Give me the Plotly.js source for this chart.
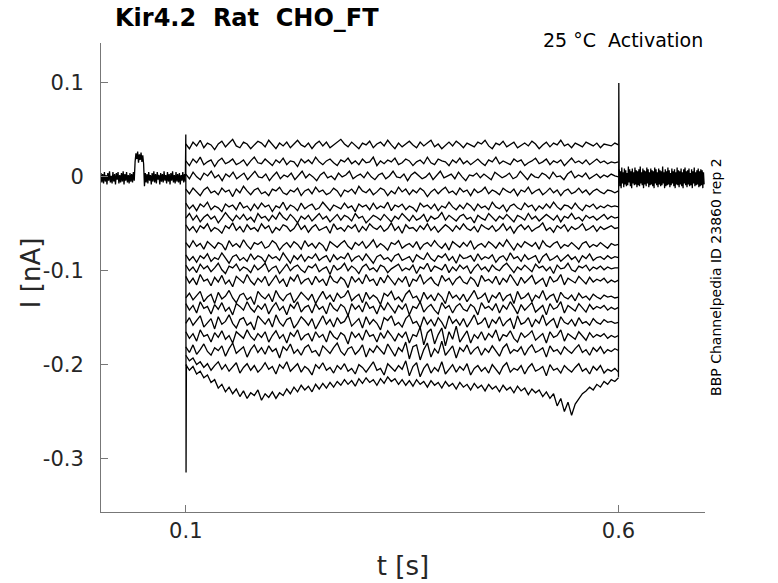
<!DOCTYPE html>
<html>
<head>
<meta charset="utf-8">
<script src="https://cdn.plot.ly/plotly-3.0.1.min.js"></script>
<style>html,body{margin:0;padding:0;background:#fff;}#plot{width:778px;height:583px;}</style>
</head>
<body>
<div id="plot"></div>
<script>
// Currents in pA (plotted in nA). Time windows in s.
const preWindow = [0.002, 0.0995];
const stepWindow = [0.1, 0.6];
const postWindow = [0.6008, 0.699];

const preBaseline = [4,-6,3,-7,5,-5,2,-8,4,-4,6,-6,1,-7,5,-5,3,-8,4,-3,5,-7,2,-6,4,-5,6,-8,3,-4,5,-6,2,-7,4,-5,3,-6,5,-4,
  16,25,19,27,15,24,18,26,16,23,14,-10,
  4,-6,3,-7,5,-4,2,-8,4,-5,6,-6,3,-7,5,-3,2,-8,4,-5,3,-6,6,-4,2,-7,5,-5,3,-8,4,-4,6,-6,2,-7,5,-5,3,-6,4,-8,2,-4,5,-6,3,-5];

const postBaseline = [8,-10,6,-12,10,-7,5,-11,9,-8,7,-10,4,-9,11,-6,8,-10,6,-12,9,-7,5,-9,10,-8,7,-11,6,-9,
  8,-10,11,-7,5,-9,9,-12,7,-8,6,-10,10,-7,8,-11,5,-9,9,-8,7,-10,6,-12,10,-7,8,-9,5,-11,
  9,-8,7,-10,6,-9,11,-7,5,-12,8,-10,6,-9,10,-8,7,-11,4,-9,9,-7,6,-10,8,-12,5,-8,10,-9,
  7,-11,6,-8,9,-10,5,-12,8,-7,10,-9,6,-11,7,-8,9,-10,4,-9,8,-12,6,-7,10,-10,5,-9,7,-8,
  9,-11,6,-10,8,-9,7,-12,5,-8];

const onsetT = [0.0995, 0.1, 0.1003, 0.1007];
const onsetI = [0, 45, -315, -200];
const offsetT = [0.5998, 0.6, 0.6004, 0.6008];
const offsetI = [-213, -213, 100, 5];

const sweep01 = [35,30,37,33,39,31,36,34,29,35,38,32,36,40,33,31,37,35,30,34,38,36,32,39,34,30,36,33,37,31,35,39,34,32,36,30,35,38,33,37,31,34,36,40,35,32,37,33,30,36,34,38,31,35,37,33,39,34,30,36,32,35,38,34,31,37,33,36,39,32,35,30,34,37,33,38,35,31,36,34,32,37,35,39,33,30,36,34,38,32,35,37,31,34,36,33,38,35,30,34,37,32,36,34,39,33,35,31,36,34,32,37,35,33,36,31,35,34,33,36,34];
const sweep02 = [17,12,19,15,21,13,16,18,11,17,20,14,16,19,13,15,18,12,17,21,15,14,19,16,12,18,15,20,13,17,16,11,19,15,18,14,21,16,13,17,19,15,12,18,16,20,14,17,13,19,15,16,21,12,17,14,18,16,20,13,15,19,17,12,16,18,14,21,15,13,19,17,16,12,18,15,20,14,17,13,16,19,15,12,18,16,21,14,17,15,13,19,16,18,12,15,17,20,14,16,19,13,17,15,18,12,16,20,15,17,14,18,13,16,19,15,17,14,16,15,16];
const sweep03 = [3,-2,5,0,-3,4,1,6,-1,2,-4,3,0,5,-2,1,4,-3,2,6,0,-1,3,-4,1,5,-2,2,0,4,-3,1,6,-1,3,0,-4,2,5,-1,1,-3,4,0,2,6,-2,1,3,-1,5,0,-3,2,4,-2,1,6,0,-1,3,-4,2,5,1,-2,0,4,-3,2,6,-1,1,3,-2,5,0,-4,2,1,4,-1,3,0,-3,5,2,-1,1,4,-2,0,6,1,-3,3,0,-1,4,2,-2,5,0,1,-3,3,6,-1,2,0,4,-2,1,3,-1,2,0,3,1,0];
const sweep04 = [-13,-18,-12,-16,-20,-14,-11,-17,-15,-19,-12,-16,-14,-21,-13,-17,-10,-15,-19,-14,-12,-18,-16,-20,-13,-15,-11,-17,-19,-14,-16,-12,-20,-15,-13,-18,-11,-16,-14,-19,-17,-12,-15,-21,-14,-16,-13,-18,-10,-15,-17,-13,-19,-16,-12,-14,-20,-15,-18,-11,-16,-13,-19,-14,-17,-12,-15,-21,-16,-13,-18,-14,-11,-17,-15,-19,-12,-16,-14,-20,-13,-17,-15,-11,-18,-14,-16,-19,-12,-15,-17,-13,-20,-14,-16,-11,-18,-15,-13,-19,-16,-12,-17,-14,-20,-15,-13,-18,-16,-12,-17,-14,-19,-15,-13,-16,-18,-14,-15,-17,-15];
const sweep05 = [-28,-34,-30,-36,-29,-32,-27,-35,-31,-33,-37,-29,-32,-30,-35,-27,-33,-31,-36,-29,-34,-28,-32,-30,-37,-31,-33,-27,-35,-30,-32,-36,-28,-34,-31,-29,-35,-33,-27,-31,-36,-30,-32,-34,-28,-33,-31,-37,-29,-32,-30,-35,-28,-34,-31,-33,-27,-36,-30,-32,-29,-35,-31,-33,-37,-28,-32,-30,-34,-29,-36,-31,-33,-27,-32,-35,-30,-34,-28,-31,-36,-29,-33,-31,-35,-27,-32,-34,-30,-37,-31,-29,-33,-35,-28,-32,-30,-36,-31,-34,-29,-33,-27,-32,-35,-30,-31,-34,-28,-33,-36,-30,-32,-29,-34,-31,-33,-30,-32,-31,-32];
const sweep06 = [-44,-39,-46,-41,-48,-43,-40,-45,-42,-49,-44,-38,-43,-47,-41,-45,-40,-46,-43,-48,-39,-44,-42,-47,-41,-45,-38,-43,-46,-40,-44,-49,-42,-45,-41,-47,-43,-39,-45,-42,-48,-44,-40,-46,-41,-43,-47,-39,-44,-42,-49,-45,-41,-43,-46,-40,-44,-48,-42,-45,-39,-43,-47,-41,-46,-44,-40,-48,-42,-45,-43,-38,-46,-41,-44,-47,-42,-40,-45,-43,-49,-41,-44,-46,-39,-43,-47,-42,-45,-40,-44,-48,-41,-43,-46,-39,-45,-42,-47,-44,-40,-43,-46,-41,-48,-42,-44,-39,-45,-43,-47,-41,-44,-42,-46,-43,-40,-45,-42,-44,-43];
const sweep07 = [-51,-57,-53,-59,-52,-55,-50,-58,-54,-56,-60,-52,-55,-49,-57,-53,-59,-51,-56,-54,-58,-50,-55,-52,-60,-54,-57,-51,-53,-58,-55,-49,-56,-52,-59,-54,-51,-57,-55,-53,-60,-50,-56,-54,-58,-52,-55,-51,-59,-53,-57,-50,-54,-56,-52,-58,-55,-49,-57,-53,-60,-51,-55,-54,-58,-52,-56,-50,-57,-53,-59,-55,-51,-54,-58,-52,-56,-50,-55,-57,-53,-59,-51,-54,-56,-52,-58,-55,-50,-57,-53,-60,-54,-51,-56,-52,-58,-55,-53,-49,-57,-54,-59,-52,-55,-51,-58,-53,-56,-54,-50,-57,-55,-52,-58,-53,-56,-54,-52,-55,-54];
const sweep08 = [-70,-75,-68,-74,-71,-77,-69,-73,-76,-70,-72,-78,-68,-74,-71,-75,-67,-73,-77,-70,-72,-69,-76,-74,-68,-71,-78,-73,-70,-75,-69,-72,-77,-68,-74,-71,-76,-70,-73,-79,-69,-72,-75,-71,-68,-74,-77,-70,-73,-69,-76,-72,-67,-75,-71,-74,-78,-70,-72,-68,-76,-73,-71,-75,-69,-77,-72,-70,-74,-68,-73,-76,-71,-78,-69,-72,-75,-70,-74,-68,-77,-73,-71,-75,-69,-72,-76,-70,-74,-67,-73,-78,-71,-75,-69,-72,-74,-70,-77,-68,-73,-75,-71,-69,-76,-72,-74,-70,-73,-77,-71,-69,-75,-72,-74,-70,-73,-76,-71,-73,-72];
const sweep09 = [-83,-89,-85,-91,-84,-87,-82,-90,-86,-88,-81,-87,-92,-85,-83,-89,-86,-90,-82,-88,-84,-86,-91,-83,-87,-85,-89,-81,-86,-92,-84,-88,-83,-90,-85,-87,-82,-89,-86,-84,-91,-83,-88,-85,-87,-81,-90,-86,-84,-89,-82,-87,-92,-85,-83,-88,-86,-90,-84,-82,-89,-87,-85,-91,-83,-86,-88,-81,-87,-90,-84,-86,-82,-89,-85,-92,-83,-87,-86,-84,-90,-82,-88,-85,-87,-83,-91,-86,-84,-89,-81,-87,-85,-90,-83,-88,-86,-84,-92,-85,-82,-89,-87,-84,-90,-86,-83,-88,-85,-91,-84,-87,-82,-89,-86,-85,-88,-84,-87,-85,-86];
const sweep10 = [-94,-100,-96,-102,-93,-98,-95,-101,-97,-92,-99,-103,-95,-97,-93,-100,-96,-98,-102,-94,-99,-96,-92,-101,-97,-95,-103,-98,-93,-100,-96,-94,-99,-102,-95,-97,-93,-101,-98,-96,-104,-94,-99,-97,-92,-100,-95,-98,-103,-96,-93,-99,-97,-101,-94,-96,-102,-98,-95,-93,-100,-97,-99,-94,-103,-96,-98,-92,-101,-95,-97,-99,-93,-102,-96,-100,-94,-98,-95,-103,-97,-93,-99,-96,-101,-94,-98,-100,-95,-92,-97,-102,-96,-99,-94,-98,-101,-93,-97,-95,-100,-96,-103,-94,-98,-97,-92,-99,-101,-95,-97,-94,-100,-96,-98,-95,-99,-96,-98,-97,-97];
const sweep11 = [-106,-113,-108,-115,-104,-111,-109,-116,-107,-112,-105,-114,-110,-117,-106,-109,-113,-104,-111,-115,-108,-112,-106,-116,-110,-105,-113,-109,-117,-107,-111,-104,-114,-110,-108,-115,-106,-112,-109,-116,-105,-111,-113,-107,-110,-118,-106,-112,-108,-114,-104,-111,-109,-116,-107,-113,-105,-110,-115,-108,-112,-106,-117,-109,-111,-104,-114,-110,-107,-113,-116,-105,-111,-108,-115,-109,-106,-112,-114,-107,-110,-117,-105,-111,-109,-113,-106,-115,-108,-112,-104,-110,-116,-107,-113,-109,-105,-114,-111,-108,-117,-106,-112,-110,-104,-115,-108,-111,-113,-106,-110,-114,-107,-112,-109,-111,-108,-113,-110,-112,-110];
const sweep12 = [-129,-124,-131,-126,-122,-133,-128,-125,-135,-123,-130,-127,-121,-129,-134,-126,-124,-131,-128,-136,-122,-127,-130,-125,-133,-121,-128,-132,-126,-124,-134,-129,-123,-127,-131,-125,-135,-128,-122,-130,-126,-133,-124,-129,-127,-121,-132,-128,-125,-134,-123,-130,-126,-129,-136,-124,-127,-122,-131,-128,-133,-125,-121,-129,-127,-134,-123,-130,-126,-132,-124,-128,-135,-122,-129,-126,-131,-125,-133,-127,-121,-130,-128,-124,-134,-126,-129,-123,-132,-127,-125,-135,-122,-130,-128,-124,-133,-126,-129,-121,-131,-127,-125,-134,-123,-128,-130,-126,-132,-124,-129,-127,-131,-125,-128,-130,-126,-128,-127,-129,-128];
const sweep13 = [-135,-142,-137,-145,-133,-140,-138,-146,-136,-141,-134,-143,-139,-147,-135,-138,-142,-133,-140,-144,-137,-141,-135,-146,-139,-134,-142,-138,-147,-136,-140,-133,-144,-139,-137,-145,-135,-141,-138,-146,-134,-140,-143,-136,-139,-148,-135,-141,-137,-144,-133,-140,-138,-146,-136,-142,-134,-139,-145,-137,-141,-135,-147,-138,-140,-133,-144,-139,-136,-142,-146,-134,-140,-137,-145,-138,-135,-141,-143,-136,-139,-147,-134,-140,-138,-142,-135,-145,-137,-141,-133,-139,-146,-136,-142,-138,-134,-144,-140,-137,-147,-135,-141,-139,-133,-145,-137,-140,-143,-135,-139,-144,-136,-141,-138,-140,-137,-142,-139,-141,-139];
const sweep14 = [-156,-150,-158,-153,-148,-160,-155,-151,-162,-149,-157,-154,-147,-156,-161,-152,-150,-158,-155,-163,-148,-153,-157,-151,-160,-147,-155,-159,-152,-150,-161,-156,-149,-153,-158,-151,-162,-155,-148,-157,-152,-160,-150,-156,-154,-147,-159,-155,-151,-161,-149,-157,-152,-156,-163,-150,-153,-148,-158,-155,-160,-151,-147,-156,-154,-161,-149,-157,-152,-159,-150,-155,-162,-148,-156,-152,-158,-151,-160,-154,-147,-157,-155,-150,-161,-152,-156,-149,-159,-154,-151,-162,-148,-157,-155,-150,-160,-152,-156,-147,-158,-154,-151,-161,-149,-155,-157,-152,-159,-150,-156,-154,-158,-151,-155,-157,-152,-155,-154,-156,-155];
const sweep15 = [-165,-172,-167,-175,-163,-170,-168,-176,-166,-171,-164,-173,-169,-177,-165,-168,-172,-163,-170,-174,-167,-171,-165,-176,-169,-164,-172,-168,-177,-166,-170,-163,-174,-169,-167,-175,-165,-171,-168,-176,-164,-170,-173,-166,-169,-178,-165,-171,-167,-174,-163,-170,-168,-176,-166,-172,-164,-169,-175,-167,-171,-165,-177,-168,-170,-160,-179,-166,-162,-178,-168,-161,-180,-165,-173,-159,-176,-170,-164,-177,-168,-172,-165,-174,-167,-171,-163,-175,-168,-170,-164,-172,-176,-166,-171,-168,-164,-174,-170,-167,-177,-165,-171,-169,-163,-175,-167,-170,-173,-165,-169,-174,-166,-171,-168,-170,-167,-172,-169,-171,-169];
const sweep16 = [-181,-187,-179,-189,-184,-178,-186,-190,-182,-185,-180,-191,-183,-177,-188,-185,-181,-192,-184,-179,-187,-182,-189,-180,-186,-183,-193,-181,-185,-178,-188,-184,-190,-182,-179,-187,-185,-191,-180,-184,-188,-182,-177,-186,-190,-183,-181,-189,-185,-179,-192,-183,-187,-180,-185,-189,-178,-184,-191,-182,-186,-176,-194,-181,-179,-195,-184,-177,-192,-183,-188,-175,-190,-185,-180,-193,-182,-186,-179,-189,-184,-181,-190,-183,-187,-180,-185,-191,-182,-178,-188,-184,-186,-181,-190,-183,-179,-187,-185,-182,-192,-180,-186,-184,-189,-181,-185,-188,-183,-179,-187,-184,-190,-182,-186,-181,-188,-184,-186,-183,-185];
const sweep17 = [-190,-196,-193,-200,-197,-203,-199,-206,-201,-197,-205,-200,-207,-202,-198,-209,-203,-199,-206,-201,-208,-204,-198,-205,-202,-210,-200,-204,-197,-207,-203,-199,-208,-202,-205,-211,-200,-204,-198,-206,-203,-209,-201,-205,-199,-207,-204,-210,-200,-203,-208,-202,-197,-206,-204,-211,-199,-203,-207,-201,-205,-196,-212,-202,-198,-213,-204,-199,-209,-203,-207,-197,-210,-205,-200,-208,-202,-206,-199,-211,-204,-201,-207,-203,-209,-200,-205,-210,-202,-198,-208,-204,-206,-201,-210,-203,-199,-207,-205,-202,-212,-200,-206,-204,-209,-201,-205,-208,-203,-199,-207,-204,-210,-202,-206,-201,-209,-205,-207,-204,-208];
const sweep18 = [-200,-206,-202,-210,-207,-214,
  -211,-219,-216,-225,-221,-229,-224,
  -231,-226,-234,-228,-236,-230,-233,-227,-238,-231,-235,-229,
  -236,-230,-233,-226,-231,-224,-229,-222,-227,-223,-229,-221,-226,-220,-225,-219,
  -224,-218,-222,-216,-221,-217,-223,-215,-220,-214,-219,-216,-222,-215,-220,-213,-218,-215,-221,-216,
  -222,-217,-223,-216,-221,-218,-224,-217,-222,-219,-225,-218,-223,-220,-226,-219,-224,-221,-227,-220,
  -225,-222,-228,-221,-226,-223,-229,-222,-227,-224,-230,-223,-228,-225,-232,-226,-230,-227,-234,-229,
  -236,-231,-244,-236,-250,-240,-254,-242,-236,-231,
  -228,-224,-227,-221,-224,-218,-221,-216,-218,-214];

const sweeps = [sweep01,sweep02,sweep03,sweep04,sweep05,sweep06,sweep07,sweep08,sweep09,
  sweep10,sweep11,sweep12,sweep13,sweep14,sweep15,sweep16,sweep17,sweep18];

const xTickVals = [0.1, 0.6];
const xTickText = ['0.1', '0.6'];
const yTickVals = [-0.3, -0.2, -0.1, 0, 0.1];
const yTickText = ['-0.3', '-0.2', '-0.1', '0', '0.1'];

function timeBase(win, n) {
  const t = [];
  for (let i = 0; i < n; i++) t.push(win[0] + (win[1] - win[0]) * i / (n - 1));
  return t;
}
const toNA = a => a.map(v => v / 1000);
const lineStyle = {color: '#000', width: 1.3};

const traces = [];
traces.push({x: timeBase(preWindow, preBaseline.length), y: toNA(preBaseline), mode: 'lines', line: lineStyle, hoverinfo: 'skip'});
sweeps.forEach(s => traces.push({x: timeBase(stepWindow, s.length), y: toNA(s), mode: 'lines', line: lineStyle, hoverinfo: 'skip'}));
traces.push({x: onsetT, y: toNA(onsetI), mode: 'lines', line: lineStyle, hoverinfo: 'skip'});
traces.push({x: offsetT, y: toNA(offsetI), mode: 'lines', line: lineStyle, hoverinfo: 'skip'});
traces.push({x: timeBase(postWindow, postBaseline.length), y: toNA(postBaseline), mode: 'lines', line: lineStyle, hoverinfo: 'skip'});

const font = 'DejaVu Sans, sans-serif';
const layout = {
  width: 778, height: 583,
  margin: {l: 101, r: 73, t: 43, b: 71},
  paper_bgcolor: '#fff', plot_bgcolor: '#fff',
  showlegend: false,
  font: {family: font, color: '#262626'},
  xaxis: {
    range: [0.002, 0.7], showgrid: false, zeroline: false,
    showline: true, linecolor: '#777', linewidth: 1, mirror: false,
    ticks: 'inside', ticklen: 7, tickcolor: '#777',
    tickvals: xTickVals, ticktext: xTickText,
    tickfont: {size: 21, family: font, color: '#262626'},
    title: {text: 't [s]', font: {size: 26, family: font, color: '#262626'}, standoff: 14}
  },
  yaxis: {
    range: [-0.357, 0.1426], showgrid: false, zeroline: false,
    showline: true, linecolor: '#777', linewidth: 1, mirror: false,
    ticks: 'inside', ticklen: 7, tickcolor: '#777',
    tickvals: yTickVals, ticktext: yTickText,
    tickfont: {size: 21, family: font, color: '#262626'},
    ticklabelstandoff: 12
  },
  annotations: [
    {text: 'I [nA]', xref: 'paper', yref: 'paper', x: -0.117, y: 0.51,
     xanchor: 'center', yanchor: 'middle', textangle: -90, showarrow: false, font: {size: 26, family: font, color: '#262626'}},
    {text: '<b>Kir4.2\u00a0\u00a0Rat\u00a0\u00a0CHO_FT</b>', xref: 'paper', yref: 'paper', x: 0.02, y: 1.053,
     xanchor: 'left', yanchor: 'middle', showarrow: false, font: {size: 24, family: font, color: '#000'}},
    {text: '25 °C\u00a0\u00a0Activation', xref: 'paper', yref: 'paper', x: 1.0, y: 1.006,
     xanchor: 'right', yanchor: 'middle', showarrow: false, font: {size: 19, family: font, color: '#000'}},
    {text: 'BBP Channelpedia ID 23860 rep 2', xref: 'paper', yref: 'paper', x: 1.018, y: 0.501,
     xanchor: 'center', yanchor: 'middle', textangle: -90, showarrow: false, font: {size: 14, family: font, color: '#000'}}
  ]
};
Plotly.newPlot('plot', traces, layout, {displayModeBar: false, staticPlot: true});
</script>
</body>
</html>
